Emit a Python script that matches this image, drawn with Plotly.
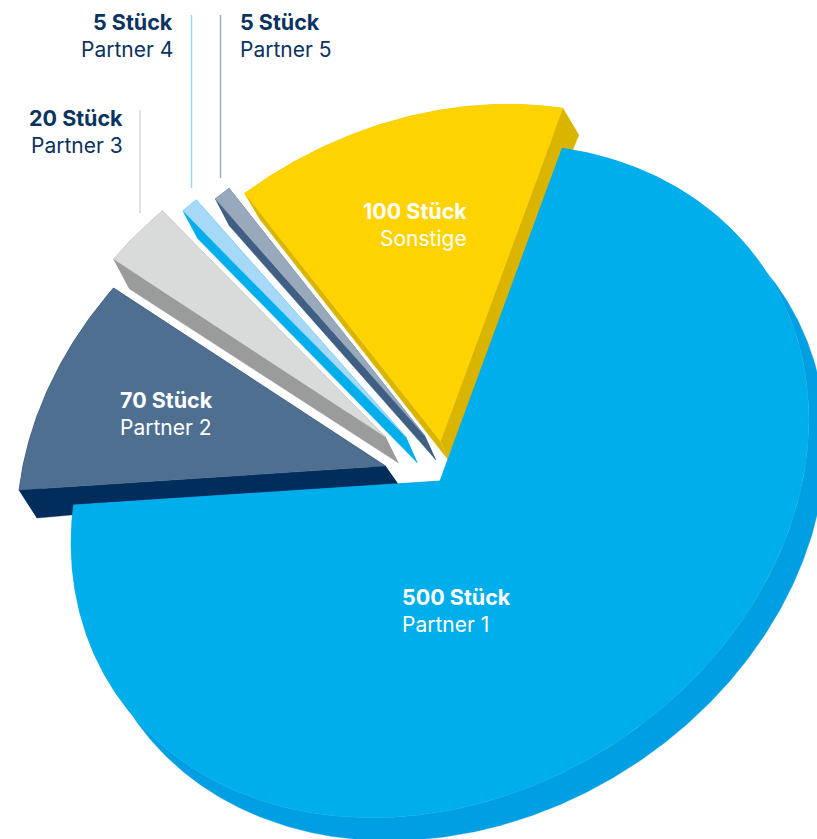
import numpy as np
import plotly.graph_objects as go

# ---------- data ----------
partners = ["Partner 1", "Partner 2", "Partner 3", "Partner 4", "Partner 5", "Sonstige"]
stueck = [500, 70, 20, 5, 5, 100]

# ---------- styles ----------
top_colors = ["#00AEEB", "#4F6F91", "#D9DADA", "#A5D9F7", "#98A9BC", "#FFD300"]
side_colors = ["#009FE3", "#002D5C", "#9A9B9B", "#00AEEB", "#3F5F85", "#D9B500"]
navy = "#0B3360"
text_font = "Inter"

# ---------- projection of the tilted disc (pixel space of the 817x839 page) ----------
W, H = 817, 839
hub = np.array([440.0, 481.0])
axis_long = np.array([0.85, -0.527]) * 387.5
axis_short = np.array([0.527, 0.85]) * 315.0
start_angle = -43.9                 # where Partner 1 begins, in disc degrees

# how far each slice is pulled out of the disc
pull_x = [0, -54.5, -54.5, -34, -15, 0.5]
pull_y = [0, -15, -44, -44, -45, -40]
# extrusion of each slice at its tip and at its rim
depth_tip = [(17, 23), (14, 20), (13, 26), (11.5, 26), (11, 24), (7, 18)]
depth_rim = [(17, 23), (18, 28), (16, 30), (15, 28), (14, 27), (16, 27)]


def rim(deg):
    a = np.radians(deg)
    return np.outer(np.cos(a), axis_long) + np.outer(np.sin(a), axis_short)


def add_poly(fig, pts, color):
    fig.add_trace(go.Scatter(
        x=pts[:, 0], y=pts[:, 1], mode="lines", fill="toself",
        fillcolor=color, line=dict(width=0.4, color=color),
        hoverinfo="skip", showlegend=False))


fig = go.Figure()

# slice extents follow from the values
total = sum(stueck)
sweeps = [v / total * 360 for v in stueck]
starts = start_angle + np.cumsum([0] + sweeps[:-1])

# Partner 1 lies over the others, so it is drawn last
for i in [5, 4, 3, 2, 1, 0]:
    angles = np.linspace(starts[i], starts[i] + sweeps[i], max(3, int(sweeps[i] * 2)))
    pull = np.array([pull_x[i], pull_y[i]])
    tip = hub + pull
    edge = tip + rim(angles)
    tip_low = tip + np.array(depth_tip[i])
    edge_low = edge + np.array(depth_rim[i])

    # side faces: both straight cuts and the rim band
    add_poly(fig, np.array([tip, edge[0], edge_low[0], tip_low]), side_colors[i])
    add_poly(fig, np.array([tip, edge[-1], edge_low[-1], tip_low]), side_colors[i])
    add_poly(fig, np.vstack([edge, edge_low[::-1]]), side_colors[i])
    # top face
    add_poly(fig, np.vstack([tip, edge, tip]), top_colors[i])

# ---------- labels: (index, x, y of first line, anchor, colour) ----------
label_spots = [
    (0, 402, 597, "left", "white"),
    (1, 120, 400, "left", "white"),
    (2, 122, 118, "right", navy),
    (3, 172, 22, "right", navy),
    (4, 240, 22, "left", navy),
    (5, 466, 211, "right", "white"),
]
for i, x, y, anchor, color in label_spots:
    nudge = 2.5 if anchor == "right" else -2.5
    fig.add_annotation(x=x, y=y, text=f"<b>{stueck[i]} Stück</b>", showarrow=False,
                       xanchor=anchor, yanchor="middle", xshift=nudge,
                       font=dict(family=text_font, size=21.5, color=color))
    fig.add_annotation(x=x, y=y + 27, text=partners[i], showarrow=False,
                       xanchor=anchor, yanchor="middle", xshift=nudge,
                       font=dict(family=text_font, size=21, color=color))

# ---------- leader lines ----------
leaders = [(140, 110, 213, "#D8D9DA"), (191.5, 15, 188, "#9FD6F5"), (220.5, 15, 178, "#9CADC0")]
for x, y0, y1, color in leaders:
    fig.add_shape(type="line", x0=x, x1=x, y0=y0, y1=y1, line=dict(color=color, width=1.5))

fig.update_layout(
    width=W, height=H, margin=dict(l=0, r=0, t=0, b=0),
    paper_bgcolor="white", plot_bgcolor="white", showlegend=False,
    xaxis=dict(range=[0, W], visible=False, fixedrange=True),
    yaxis=dict(range=[H, 0], visible=False, fixedrange=True),
)
fig.write_html("out.html", config={"displayModeBar": False},
               post_script="document.body.style.margin='0';document.body.style.overflow='hidden';")
